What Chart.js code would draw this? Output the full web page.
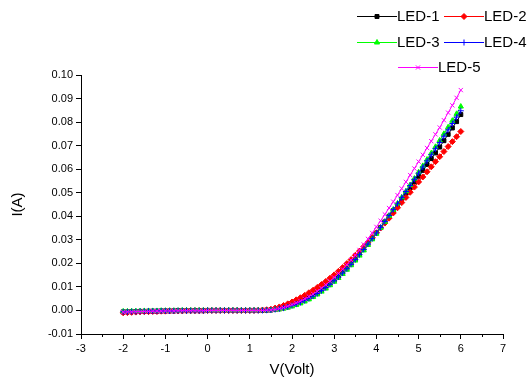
<!DOCTYPE html>
<html>
<head>
<meta charset="utf-8">
<script src="https://cdn.jsdelivr.net/npm/chart.js@4.4.0/dist/chart.umd.min.js"></script>
<style>
html,body{margin:0;padding:0;background:#fff;}
canvas{display:block;}
</style>
</head>
<body>
<canvas id="c" width="528" height="383"></canvas>
<script>
// ---- data ----
const voltages = [-2.0,-1.9,-1.8,-1.7,-1.6,-1.5,-1.4,-1.3,-1.2,-1.1,-1.0,-0.9,-0.8,-0.7,-0.6,-0.5,-0.4,-0.3,-0.2,-0.1,
  0.0,0.1,0.2,0.3,0.4,0.5,0.6,0.7,0.8,0.9,1.0,1.1,1.2,1.3,1.4,1.5,1.6,1.7,1.8,1.9,
  2.0,2.1,2.2,2.3,2.4,2.5,2.6,2.7,2.8,2.9,3.0,3.1,3.2,3.3,3.4,3.5,3.6,3.7,3.8,3.9,
  4.0,4.1,4.2,4.3,4.4,4.5,4.6,4.7,4.8,4.9,5.0,5.1,5.2,5.3,5.4,5.5,5.6,5.7,5.8,5.9,6.0];

const led1 = [-0.0006,-0.0006,-0.0005,-0.0005,-0.0004,-0.0004,-0.0003,-0.0003,-0.0003,-0.0002,-0.0002,-0.0002,-0.0002,-0.0001,-0.0001,-0.0001,-0.0001,-0.0001,-0.0001,-0.0001,
  0,0,0,0,0,0,0,0,0,0,0,0,0,0,0.0001,
  0.0002,0.0004,0.0007,0.0011,0.0016,0.0022,0.0029,0.0036,0.0044,0.0053,0.0063,0.0074,0.0086,0.0099,0.0113,
  0.0128,0.0144,0.0161,0.0179,0.0198,0.0218,0.0239,0.0261,0.0283,0.0306,0.0329,0.0352,0.0376,0.0400,0.0424,
  0.0448,0.0472,0.0497,0.0521,0.0546,0.0570,0.0595,0.0620,0.0645,0.0669,0.0694,0.0721,0.0748,0.0775,0.0802,0.0832];

const led2 = [-0.0010,-0.0009,-0.0008,-0.0007,-0.0006,-0.0005,-0.0005,-0.0004,-0.0004,-0.0003,-0.0003,-0.0002,-0.0002,-0.0002,-0.0002,-0.0001,-0.0001,-0.0001,-0.0001,-0.0001,
  0,0,0,0,0,0,0,0,0,0,0,0,0.0001,0.0002,0.0003,
  0.0005,0.0010,0.0015,0.0021,0.0028,0.0036,0.0045,0.0054,0.0064,0.0075,0.0086,0.0098,0.0110,0.0123,0.0137,
  0.0151,0.0166,0.0182,0.0199,0.0216,0.0234,0.0252,0.0271,0.0290,0.0310,0.0330,0.0350,0.0371,0.0392,0.0414,
  0.0436,0.0458,0.0480,0.0502,0.0524,0.0546,0.0567,0.0589,0.0610,0.0632,0.0653,0.0675,0.0696,0.0717,0.0738,0.0760];

const led3 = [-0.0004,-0.0004,-0.0003,-0.0003,-0.0003,-0.0002,-0.0002,-0.0002,-0.0002,-0.0001,-0.0001,-0.0001,-0.0001,-0.0001,0,0,0,0,0,0,
  0,0,0,0,0,0,0,0,0,0,0,0,0,0,0,
  0.0001,0.0003,0.0005,0.0008,0.0012,0.0017,0.0023,0.0030,0.0038,0.0047,0.0057,0.0068,0.0080,0.0093,0.0107,
  0.0122,0.0138,0.0155,0.0173,0.0192,0.0212,0.0233,0.0255,0.0278,0.0302,0.0326,0.0351,0.0376,0.0402,0.0428,
  0.0454,0.0480,0.0506,0.0533,0.0560,0.0587,0.0614,0.0641,0.0668,0.0695,0.0722,0.0750,0.0778,0.0806,0.0835,0.0866];

const led4 = [-0.0006,-0.0006,-0.0005,-0.0005,-0.0004,-0.0004,-0.0003,-0.0003,-0.0003,-0.0002,-0.0002,-0.0002,-0.0002,-0.0001,-0.0001,-0.0001,-0.0001,-0.0001,-0.0001,-0.0001,
  0,0,0,0,0,0,0,0,0,0,0,0,0,0,0.0001,
  0.0002,0.0004,0.0007,0.0010,0.0015,0.0021,0.0027,0.0034,0.0042,0.0051,0.0061,0.0072,0.0084,0.0097,0.0111,
  0.0126,0.0142,0.0159,0.0177,0.0196,0.0216,0.0237,0.0259,0.0282,0.0305,0.0329,0.0353,0.0378,0.0403,0.0428,
  0.0453,0.0479,0.0505,0.0531,0.0557,0.0583,0.0609,0.0635,0.0661,0.0687,0.0713,0.0740,0.0767,0.0794,0.0821,0.0848];

const led5 = [-0.0007,-0.0006,-0.0006,-0.0005,-0.0005,-0.0004,-0.0004,-0.0003,-0.0003,-0.0003,-0.0002,-0.0002,-0.0002,-0.0001,-0.0001,-0.0001,-0.0001,-0.0001,-0.0001,-0.0001,
  0,0,0,0,0,0,0,0,0,0,0,0,0,0,0.0001,
  0.0002,0.0004,0.0008,0.0012,0.0018,0.0025,0.0032,0.0040,0.0049,0.0059,0.0070,0.0082,0.0095,0.0109,0.0124,
  0.0140,0.0157,0.0175,0.0194,0.0214,0.0235,0.0257,0.0280,0.0304,0.0329,0.0355,0.0381,0.0408,0.0435,0.0462,
  0.0490,0.0518,0.0546,0.0575,0.0603,0.0632,0.0661,0.0690,0.0719,0.0748,0.0777,0.0808,0.0840,0.0871,0.0903,0.0936];

const seriesNames = ['LED-1','LED-2','LED-3','LED-4','LED-5'];
const seriesValues = [led1, led2, led3, led4, led5];
const xTicks = [-3,-2,-1,0,1,2,3,4,5,6,7];
const yTicks = [-0.01,0.00,0.01,0.02,0.03,0.04,0.05,0.06,0.07,0.08,0.09,0.10];

// ---- styles ----
const colors = ['#000000','#ff0000','#00ff00','#0000ff','#ff00ff'];
const pstyles = ['rect','rectRot','triangle','cross','crossRot'];
const pradius = [2.8,3.0,3.0,3.0,3.0];
const FONT = '"Liberation Sans", Arial, Helvetica, sans-serif';

const datasets = seriesValues.map((vals, i) => ({
  label: seriesNames[i],
  data: voltages.map((v, k) => ({x: v, y: vals[k]})),
  borderColor: colors[i],
  backgroundColor: colors[i],
  borderWidth: 1,
  pointStyle: pstyles[i],
  pointRadius: pradius[i],
  pointBorderWidth: 1,
  pointBackgroundColor: colors[i],
  pointBorderColor: colors[i],
  tension: 0,
  order: 5 - i
}));

// legend layout (row y, line start x)
const legendLayout = [
  {x: 357, y: 16}, {x: 444, y: 16},
  {x: 357, y: 42}, {x: 444, y: 42},
  {x: 398, y: 67}
];

const customLegend = {
  id: 'customLegend',
  afterDraw(chart) {
    const ctx = chart.ctx;
    ctx.save();
    chart.data.datasets.forEach((ds, i) => {
      const p = legendLayout[i];
      ctx.strokeStyle = ds.borderColor;
      ctx.lineWidth = 1;
      ctx.beginPath();
      ctx.moveTo(p.x, p.y + 0.5);
      ctx.lineTo(p.x + 40, p.y + 0.5);
      ctx.stroke();
      if (Chart.helpers && Chart.helpers.drawPoint) {
        ctx.fillStyle = ds.pointBackgroundColor;
        ctx.strokeStyle = ds.pointBorderColor;
        Chart.helpers.drawPoint(ctx, {pointStyle: ds.pointStyle, radius: ds.pointRadius, borderWidth: 1, rotation: 0}, p.x + 20, p.y + 0.5);
      }
      ctx.fillStyle = '#000';
      ctx.font = '15px ' + FONT;
      ctx.textBaseline = 'middle';
      ctx.textAlign = 'left';
      ctx.fillText(ds.label, p.x + 40, p.y + 1);
    });
    ctx.restore();
  }
};

const minorTicks = {
  id: 'minorTicks',
  afterDraw(chart) {
    const xs = chart.scales.x;
    const ctx = chart.ctx;
    const bottom = chart.chartArea.bottom;
    ctx.save();
    ctx.strokeStyle = '#000';
    ctx.lineWidth = 1;
    for (let i = 0; i < xTicks.length - 1; i++) {
      const v = (xTicks[i] + xTicks[i + 1]) / 2;
      const px = Math.round(xs.getPixelForValue(v)) + 0.5;
      ctx.beginPath();
      ctx.moveTo(px, bottom);
      ctx.lineTo(px, bottom + 3);
      ctx.stroke();
    }
    ctx.restore();
  }
};

new Chart(document.getElementById('c'), {
  type: 'line',
  data: { datasets },
  options: {
    responsive: false,
    animation: false,
    devicePixelRatio: 1,
    layout: { padding: { left: 0, right: 25, top: 75, bottom: 0 } },
    plugins: { legend: { display: false }, tooltip: { enabled: false } },
    scales: {
      x: {
        type: 'linear',
        min: xTicks[0], max: xTicks[xTicks.length - 1],
        afterBuildTicks: (s) => { s.ticks = xTicks.map(v => ({value: v})); },
        afterFit: (s) => { s.height = 49; },
        ticks: { font: { family: FONT, size: 11 }, color: '#000', padding: 3,
                 callback: (v) => String(v) },
        grid: { display: true, drawOnChartArea: false, drawTicks: true, tickLength: 5, color: '#000' },
        border: { display: true, color: '#000', width: 1 },
        title: { display: true, text: 'V(Volt)', font: { family: FONT, size: 15 }, color: '#000', padding: { top: 0, bottom: 4 } }
      },
      y: {
        type: 'linear',
        min: yTicks[0], max: yTicks[yTicks.length - 1],
        afterBuildTicks: (s) => { s.ticks = yTicks.map(v => ({value: v})); },
        afterFit: (s) => { s.width = 81; },
        ticks: { font: { family: FONT, size: 11 }, color: '#000', padding: 3,
                 callback: (v) => Number(v).toFixed(2) },
        grid: { display: true, drawOnChartArea: false, drawTicks: true, tickLength: 5, color: '#000' },
        border: { display: true, color: '#000', width: 1 },
        title: { display: true, text: 'I(A)', font: { family: FONT, size: 15 }, color: '#000', padding: { top: 9, bottom: 0 } }
      }
    }
  },
  plugins: [customLegend, minorTicks]
});
</script>
</body>
</html>
